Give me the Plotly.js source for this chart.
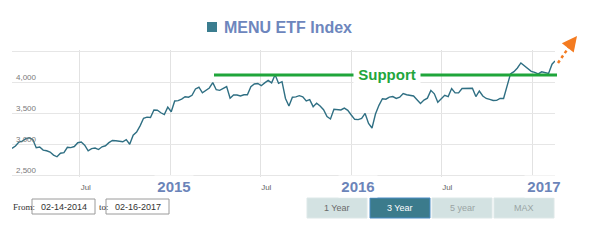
<!DOCTYPE html>
<html>
<head>
<meta charset="utf-8">
<script src="https://cdn.plot.ly/plotly-3.0.1.min.js"></script>
<style>
  html, body { margin: 0; padding: 0; background: #ffffff; }
  #chart { width: 590px; height: 242px; }
</style>
</head>
<body>
<div id="chart"></div>
<script>
// ---------- data ----------
const seriesName = 'MENU ETF Index';
const startDate = '2014-02-14';          // first weekly close
const weeklyClose = [
  2939, 2976, 3040, 3056, 3096, 3110, 3080, 2950, 2960, 2911,
  2900, 2879, 2831, 2804, 2860, 2870, 2955, 2950, 2968, 3029,
  3040, 2990, 2900, 2935, 2944, 2920, 2964, 2980, 3030, 3065,
  3060, 3056, 3045, 3080, 3005, 3150, 3200, 3300, 3421, 3440,
  3434, 3555, 3550, 3510, 3480, 3600, 3527, 3700, 3705, 3730,
  3768, 3760, 3790, 3892, 3920, 3830, 3865, 3908, 3994, 3880,
  3870, 3900, 3930, 3743, 3795, 3796, 3780, 3800, 3800, 3930,
  3973, 3980, 3945, 3990, 4030, 3990, 4120, 3984, 4010, 3740,
  3620, 3760, 3765, 3785, 3765, 3700, 3720, 3608, 3665, 3620,
  3560, 3450, 3410, 3565, 3560, 3555, 3585, 3550, 3474, 3405,
  3400, 3420, 3500, 3340, 3265, 3490, 3630, 3735, 3728, 3762,
  3770, 3740, 3760, 3820, 3800, 3795, 3780, 3720, 3660, 3715,
  3745, 3870, 3815, 3680, 3740, 3790, 3770, 3900, 3830, 3830,
  3900, 3904, 3904, 3904, 3770, 3860, 3780, 3740, 3725, 3708,
  3710, 3740, 3740, 3960, 4135, 4170, 4230, 4310, 4265, 4210,
  4175, 4160, 4135, 4168, 4155, 4140, 4290
];
const lastDate = '2017-02-16';
const lastClose = 4342;
const supportLevel = 4117;
const supportLabel = 'Support';

const xTickVals = ['2014-07-01', '2015-01-01', '2015-07-01', '2016-01-01', '2016-07-01', '2017-01-01'];
const xTickText = ['Jul', '', 'Jul', '', 'Jul', ''];
const yearDates = ['2015-01-01', '2016-01-01', '2017-01-01'];
const yearLabels = ['2015', '2016', '2017'];
const yTickVals = [2500, 3000, 3500, 4000, 4500];
const yTickText = ['2,500', '3,000', '3,500', '4,000', ''];

const fromLabel = 'From:';
const toLabel = 'to:';
const fromDate = '02-14-2014';
const toDate = '02-16-2017';
const rangeButtons = ['1 Year', '3 Year', '5 year', 'MAX'];
const activeButton = '3 Year';

// ---------- build series ----------
const dates = [];
const values = [];
const t0 = Date.parse(startDate + 'T00:00:00Z');
weeklyClose.forEach((v, i) => {
  dates.push(new Date(t0 + i * 7 * 86400000).toISOString().slice(0, 10));
  values.push(v);
});
dates.push(lastDate);
values.push(lastClose);

// ---------- geometry helpers (figure pixels -> paper) ----------
const W = 590, H = 242;
const M = { l: 12, r: 35, t: 50, b: 65 };
const PW = W - M.l - M.r, PH = H - M.t - M.b;
const px = x => (x - M.l) / PW;
const py = y => (H - M.b - y) / PH;

const SANS = 'Liberation Sans, Arial, sans-serif';
const SERIF = 'Liberation Serif, Times New Roman, serif';
const TITLE_BLUE = '#6d86bd';
const TEAL = '#2f6f83';

const shapes = [];
const annotations = [];

// title marker square
shapes.push({ type: 'rect', xref: 'paper', yref: 'paper',
  x0: px(207), x1: px(217), y0: py(32), y1: py(22),
  fillcolor: '#3b7d8f', line: { width: 0 } });

// y tick labels (drawn inside the plot, just above each gridline)
yTickVals.forEach((v, i) => {
  if (!yTickText[i]) return;
  annotations.push({ xref: 'paper', yref: 'y', x: px(14), y: v, yshift: 5,
    xanchor: 'left', yanchor: 'middle', text: yTickText[i], showarrow: false,
    font: { family: SANS, size: 8, color: '#7a7a7a' } });
});

// support line
shapes.push({ type: 'line', xref: 'paper', yref: 'y',
  x0: px(214), x1: px(557), y0: supportLevel, y1: supportLevel,
  line: { color: '#1fa53a', width: 3 } });
annotations.push({ xref: 'paper', yref: 'y', x: px(387), y: supportLevel,
  text: '<b>' + supportLabel + '</b>', showarrow: false,
  font: { family: SANS, size: 15, color: '#22a63c' },
  bgcolor: '#ffffff', borderpad: 2, width: 62, xanchor: 'center', yanchor: 'middle' });

// orange dotted arrow
shapes.push({ type: 'line', xref: 'paper', yref: 'paper',
  x0: px(558), y0: py(63), x1: px(571), y1: py(44),
  line: { color: '#f47b20', width: 2.5, dash: 'dot' } });
annotations.push({ xref: 'paper', yref: 'paper', x: px(577), y: py(36),
  ax: -7, ay: 9, showarrow: true, arrowhead: 2, arrowsize: 1.2, arrowwidth: 2.5,
  arrowcolor: '#f47b20', text: '' });

// year labels
const yearShift = [3, 7, 12];
yearDates.forEach((d, i) => {
  annotations.push({ xref: 'x', yref: 'paper', x: d, y: py(186), xshift: yearShift[i],
    text: '<b>' + yearLabels[i] + '</b>', showarrow: false,
    font: { family: SANS, size: 15, color: '#6b84b9' },
    bgcolor: '#ffffff', borderpad: 2, width: 34, xanchor: 'center', yanchor: 'middle' });
});

// From / to date boxes
annotations.push({ xref: 'paper', yref: 'paper', x: px(11), y: py(207), xanchor: 'left', yanchor: 'middle',
  text: fromLabel, showarrow: false, font: { family: SERIF, size: 9, color: '#333' } });
annotations.push({ xref: 'paper', yref: 'paper', x: px(97), y: py(207), xanchor: 'left', yanchor: 'middle',
  text: toLabel, showarrow: false, font: { family: SERIF, size: 9, color: '#333' } });
[[32, 95, fromDate], [106, 169, toDate]].forEach(b => {
  shapes.push({ type: 'rect', xref: 'paper', yref: 'paper',
    x0: px(b[0]), x1: px(b[1]), y0: py(214), y1: py(199),
    fillcolor: '#ffffff', line: { color: '#9a9a9a', width: 1 } });
  annotations.push({ xref: 'paper', yref: 'paper', x: px((b[0] + b[1]) / 2), y: py(206.5),
    xanchor: 'center', yanchor: 'middle', text: b[2], showarrow: false,
    font: { family: SANS, size: 9, color: '#333' } });
});

// range buttons
const btnX = [[307, 367], [370, 430], [432, 492], [494, 554]];
const btnTextColor = ['#6a6a6a', '#ffffff', '#9aa4a4', '#9aa4a4'];
rangeButtons.forEach((label, i) => {
  const active = label === activeButton;
  shapes.push({ type: 'rect', xref: 'paper', yref: 'paper',
    x0: px(btnX[i][0]), x1: px(btnX[i][1]), y0: py(218), y1: py(198),
    fillcolor: active ? '#3b7b8c' : '#d3e2e2',
    line: { color: active ? '#4a8cc4' : '#dde8e8', width: 1 } });
  annotations.push({ xref: 'paper', yref: 'paper', x: px((btnX[i][0] + btnX[i][1]) / 2), y: py(208),
    xanchor: 'center', yanchor: 'middle', text: label, showarrow: false,
    font: { family: SANS, size: 9, color: btnTextColor[i] } });
});

const trace = {
  type: 'scatter', mode: 'lines', name: seriesName,
  x: dates, y: values,
  line: { color: TEAL, width: 1.4 },
  hoverinfo: 'x+y'
};

const layout = {
  width: W, height: H,
  margin: { l: M.l, r: M.r, t: M.t, b: M.b, pad: 0 },
  paper_bgcolor: '#ffffff', plot_bgcolor: '#ffffff',
  showlegend: false,
  title: {
    text: '<b>' + seriesName + '</b>',
    xref: 'container', yref: 'container',
    x: 224 / W, y: 1 - 27 / H, xanchor: 'left', yanchor: 'middle',
    font: { family: SANS, size: 16, color: TITLE_BLUE }
  },
  xaxis: {
    type: 'date',
    range: [startDate, lastDate],
    tickvals: xTickVals, ticktext: xTickText,
    showgrid: true, gridcolor: '#e2e2e2', gridwidth: 1,
    zeroline: false, showline: false, ticks: '',
    tickfont: { family: SANS, size: 8, color: '#666' },
    ticklabelshift: 6, ticklabelstandoff: 4,
    fixedrange: true
  },
  yaxis: {
    range: [2479, 4518],
    tickvals: yTickVals,
    showticklabels: false,
    showgrid: true, gridcolor: '#e6e6e6', gridwidth: 1,
    zeroline: false, showline: false, ticks: '',
    fixedrange: true
  },
  shapes: shapes,
  annotations: annotations
};

Plotly.newPlot('chart', [trace], layout, { displayModeBar: false, staticPlot: true });
</script>
</body>
</html>
